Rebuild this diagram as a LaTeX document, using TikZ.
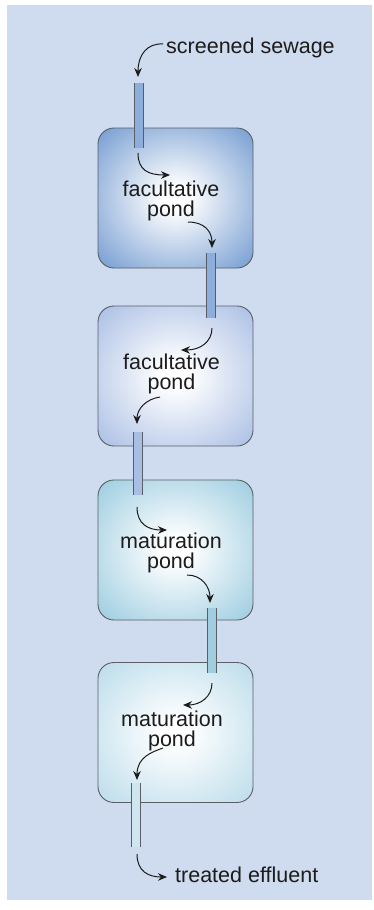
\documentclass[tikz,border=0pt]{standalone}
\usepackage{fontspec}
\setmainfont{Liberation Sans}
\usetikzlibrary{arrows.meta}

\definecolor{panel}{HTML}{CFDBEE}
\definecolor{pondA}{HTML}{7EA3D4}
\definecolor{pondB}{HTML}{B0C3E6}
\definecolor{pondC}{HTML}{A3D0E2}
\definecolor{pondD}{HTML}{C0DFEC}
\definecolor{pipeA}{HTML}{8DAEDB}
\definecolor{pipeB}{HTML}{A9BEE4}
\definecolor{pipeC}{HTML}{A0CDE0}
\definecolor{pipeD}{HTML}{CDE6F0}
\definecolor{rim}{HTML}{5A5F66}
\definecolor{ink}{HTML}{1C1C1C}

% radial fills: white core fading to the pond colour at the rim
\pgfdeclareradialshading{shadeA}{\pgfpoint{0bp}{0bp}}{color(0bp)=(white); color(4bp)=(white); color(33bp)=(pondA); color(50bp)=(pondA)}
\pgfdeclareradialshading{shadeB}{\pgfpoint{0bp}{0bp}}{color(0bp)=(white); color(4bp)=(white); color(33bp)=(pondB); color(50bp)=(pondB)}
\pgfdeclareradialshading{shadeC}{\pgfpoint{0bp}{0bp}}{color(0bp)=(white); color(4bp)=(white); color(33bp)=(pondC); color(50bp)=(pondC)}
\pgfdeclareradialshading{shadeD}{\pgfpoint{0bp}{0bp}}{color(0bp)=(white); color(4bp)=(white); color(33bp)=(pondD); color(50bp)=(pondD)}

\tikzset{
  pond/.style={draw=rim, line width=0.9pt, rounded corners=16pt,
    minimum width=155pt, minimum height=140pt, shade, shading=#1},
  lbl/.style={text=ink, font=\fontsize{21.5}{19.5}\selectfont, inner sep=0pt},
  pondlbl/.style={lbl, align=center},
  flow/.style={draw=ink, line width=1pt,
    -{Stealth[length=9pt,width=7.5pt]}},
  pipeside/.style={draw=rim, line width=0.9pt},
}

% vertical pipe: #1 centre x, #2 top y, #3 bottom y, #4 fill colour
\newcommand{\drawpipe}[4]{%
  \fill[#4] (#1-4.5,#2) rectangle (#1+4.5,#3);
  \draw[pipeside] (#1-4.5,#2) -- (#1-4.5,#3) (#1+4.5,#2) -- (#1+4.5,#3);
}

\begin{document}
\begin{tikzpicture}[x=1pt,y=-1pt]
\useasboundingbox (0,0) rectangle (374,910);
\fill[white] (0,0) rectangle (374,910);
\fill[panel] (7,5) rectangle (372,900);

% ponds
\node[pond=shadeA] (p1) at (175.5,198) {};
\node[pond=shadeB] (p2) at (175.5,376) {};
\node[pond=shadeC] (p3) at (175.5,550) {};
\node[pond=shadeD] (p4) at (175.5,732.5) {};

% pipes between ponds
\drawpipe{139}{83}{148}{pipeA}
\drawpipe{211}{253}{318}{pipeA}
\drawpipe{138}{432}{495}{pipeB}
\drawpipe{211.5}{608}{673}{pipeC}
\drawpipe{136}{783}{847}{pipeD}

% labels
\node[lbl, anchor=base west] (tin) at (166,53) {screened sewage};
\node[lbl, anchor=base west] (tout) at (175,882) {treated effluent};
\node[pondlbl] (l1) at (171,201) {facultative\\pond};
\node[pondlbl] (l2) at (171.5,374) {facultative\\pond};
\node[pondlbl] (l3) at (171,553) {maturation\\pond};
\node[pondlbl] (l4) at (172,731) {maturation\\pond};

% flow arrows
\coordinate (a0) at (163,44);  \coordinate (b0) at (138,77);
\coordinate (a1) at (138,153); \coordinate (b1) at (170,175);
\coordinate (a2) at (188,222); \coordinate (b2) at (212,248);
\coordinate (a3) at (212,328); \coordinate (b3) at (181,350);
\coordinate (a4) at (160,397); \coordinate (b4) at (137,424);
\coordinate (a5) at (137,507); \coordinate (b5) at (167,530);
\coordinate (a6) at (187,575); \coordinate (b6) at (210,603);
\coordinate (a7) at (212,683); \coordinate (b7) at (183,705);
\coordinate (a8) at (163,748); \coordinate (b8) at (137,780);
\coordinate (a9) at (137,854); \coordinate (b9) at (167,877);

\draw[flow] (a0) .. controls (147,43) and (138,55) .. (b0);
\draw[flow] (a1) .. controls (138,170) and (148,175) .. (b1);
\draw[flow] (a2) .. controls (204,222) and (212,231) .. (b2);
\draw[flow] (a3) .. controls (212,342) and (200,350) .. (b3);
\draw[flow] (a4) .. controls (146,399) and (137,409) .. (b4);
\draw[flow] (a5) .. controls (137,524) and (148,530) .. (b5);
\draw[flow] (a6) .. controls (202,575) and (210,587) .. (b6);
\draw[flow] (a7) .. controls (212,697) and (200,705) .. (b7);
\draw[flow] (a8) .. controls (152,752) and (137,757) .. (b8);
\draw[flow] (a9) .. controls (137,871) and (148,877) .. (b9);
\end{tikzpicture}
\end{document}
